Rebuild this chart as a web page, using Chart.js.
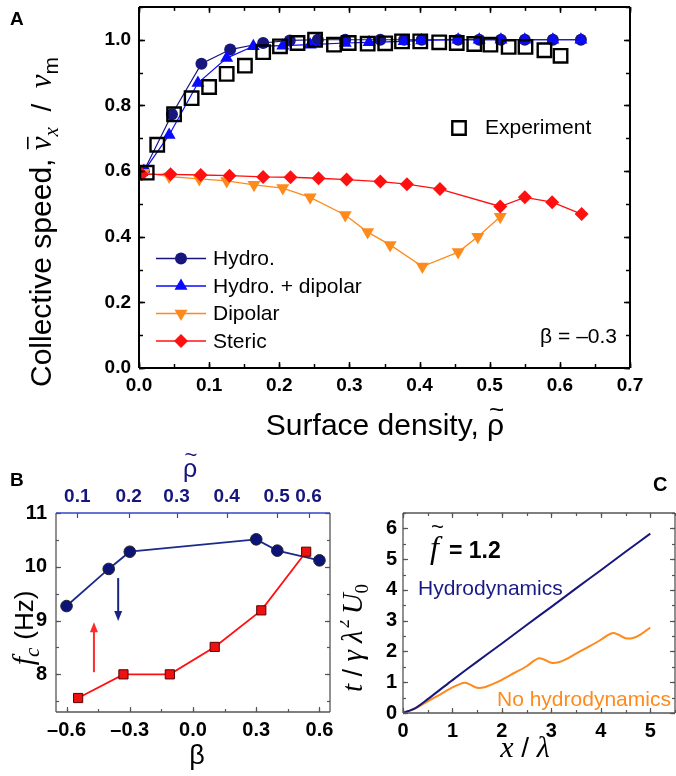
<!DOCTYPE html>
<html>
<head>
<meta charset="utf-8">
<script src="https://cdn.jsdelivr.net/npm/chart.js@4.4.0/dist/chart.umd.min.js"></script>
<style>
  html, body { margin: 0; padding: 0; background: #fff; }
  #wrap { position: relative; width: 676px; height: 776px; overflow: hidden; }
  canvas { position: absolute; }
</style>
</head>
<body>
<div id="wrap">
  <canvas id="chartA" width="676" height="455" style="left:0;top:-5px;width:676px;height:455px"></canvas>
  <canvas id="chartB" width="340" height="326" style="left:0;top:450px;width:340px;height:326px"></canvas>
  <canvas id="chartC" width="336" height="326" style="left:340px;top:450px;width:336px;height:326px"></canvas>
</div>
<script>
// ---- Panel A: collective speed vs surface density (beta = -0.3)
const hydroRho = [0.007, 0.047, 0.089, 0.130, 0.177, 0.215, 0.255, 0.294, 0.344, 0.378, 0.403, 0.455, 0.485, 0.516, 0.550, 0.590, 0.630];
const hydroV   = [0.600, 0.773, 0.927, 0.970, 0.990, 0.998, 1.000, 1.000, 1.000, 1.000, 1.000, 1.000, 1.000, 1.000, 1.000, 1.000, 1.000];
const hydroDipRho = [0.007, 0.043, 0.084, 0.125, 0.163, 0.205, 0.244, 0.294, 0.328, 0.378, 0.403, 0.455, 0.485, 0.516, 0.550, 0.590, 0.630];
const hydroDipV   = [0.600, 0.710, 0.868, 0.944, 0.980, 0.982, 0.985, 0.990, 0.992, 0.995, 0.998, 1.000, 1.000, 1.000, 1.000, 1.000, 1.000];
const dipolarRho = [0.007, 0.043, 0.086, 0.125, 0.164, 0.205, 0.244, 0.294, 0.326, 0.358, 0.404, 0.455, 0.483, 0.515];
const dipolarV   = [0.595, 0.583, 0.576, 0.570, 0.558, 0.548, 0.520, 0.466, 0.414, 0.375, 0.309, 0.353, 0.400, 0.461];
const stericRho = [0.004, 0.045, 0.088, 0.129, 0.177, 0.216, 0.256, 0.296, 0.344, 0.382, 0.429, 0.515, 0.550, 0.589, 0.631];
const stericV   = [0.590, 0.590, 0.588, 0.586, 0.582, 0.581, 0.578, 0.574, 0.568, 0.560, 0.545, 0.492, 0.520, 0.505, 0.469];
const exptRho = [0.011, 0.026, 0.050, 0.075, 0.100, 0.125, 0.151, 0.177, 0.201, 0.226, 0.251, 0.278, 0.299, 0.326, 0.351, 0.375, 0.401, 0.428, 0.453, 0.478, 0.501, 0.527, 0.551, 0.578, 0.601];
const exptV   = [0.595, 0.680, 0.773, 0.822, 0.856, 0.896, 0.921, 0.962, 0.980, 0.990, 1.000, 0.985, 0.990, 0.988, 0.989, 0.995, 0.995, 0.992, 0.990, 0.987, 0.985, 0.978, 0.978, 0.968, 0.951];

// ---- Panel B: critical frequency vs beta
const betaHydro = [-0.60, -0.40, -0.30, 0.30, 0.40, 0.60];
const fcHydro   = [9.27, 9.96, 10.28, 10.51, 10.30, 10.12];
const betaNoHydro = [-0.545, -0.33, -0.11, 0.103, 0.324, 0.537];
const fcNoHydro   = [7.56, 8.00, 8.00, 8.51, 9.19, 10.28];
const rhoTickBeta   = [-0.549, -0.305, -0.078, 0.160, 0.397, 0.548];
const rhoTickLabels = ['0.1', '0.2', '0.3', '0.4', '0.5', '0.6'];
const arrowBeta = [-0.355, -0.47];
const arrowFrom = [9.79, 8.04];
const arrowTo   = [8.99, 8.97];

// ---- Panel C: time vs distance, f~ = 1.2
const xHydro = [0, 0.25, 0.5, 0.75, 1, 1.5, 2, 2.5, 3, 3.5, 4, 4.5, 5];
const tHydro = [0, 0.16, 0.45, 0.76, 1.07, 1.67, 2.26, 2.86, 3.45, 4.05, 4.64, 5.24, 5.83];
const xNoHydro = [0, 0.25, 0.5, 0.75, 1.0, 1.15, 1.25, 1.35, 1.5, 1.65, 1.8, 2.0, 2.25, 2.5, 2.65, 2.75, 2.85, 3.0, 3.15, 3.3, 3.5, 3.75, 4.0, 4.15, 4.25, 4.35, 4.5, 4.65, 4.8, 5.0];
const tNoHydro = [0, 0.15, 0.38, 0.6, 0.83, 0.94, 0.98, 0.93, 0.82, 0.84, 0.93, 1.08, 1.3, 1.52, 1.7, 1.78, 1.74, 1.63, 1.65, 1.75, 1.93, 2.15, 2.38, 2.54, 2.6, 2.55, 2.43, 2.44, 2.55, 2.78];

const navy = '#16167c', blue = '#0a0aff', orange = '#ff8a1c', red = '#ff1010';
const SANS = '"Liberation Sans", Arial, sans-serif';
const SERIF = '"Liberation Serif", "Times New Roman", serif';
const pts = (xs, ys) => xs.map((x, i) => ({ x, y: ys[i] }));

// fixed axis size, no extra label padding pushed into the layout
const fixSize = (key, px) => s => {
  s[key] = px;
  s.paddingTop = 0; s.paddingBottom = 0; s.paddingLeft = 0; s.paddingRight = 0;
};

// text made of pieces with different fonts; angle -PI/2 for rotated titles
function richText(ctx, parts, x, y, angle, align) {
  ctx.save();
  ctx.translate(x, y);
  ctx.rotate(angle || 0);
  let total = 0;
  parts.forEach(p => { ctx.font = p.font; p.w = ctx.measureText(p.t).width; total += p.w + (p.gap || 0); });
  let cx = align === 'center' ? -total / 2 : (align === 'right' ? -total : 0);
  ctx.textAlign = 'left';
  ctx.textBaseline = 'alphabetic';
  parts.forEach(p => {
    const dy = p.dy || 0;
    ctx.font = p.font;
    ctx.fillStyle = p.color || '#000';
    ctx.fillText(p.t, cx, dy);
    if (p.over) {
      ctx.font = p.over.font;
      const w2 = ctx.measureText(p.over.t).width;
      ctx.fillText(p.over.t, cx + p.w / 2 - w2 / 2 + (p.over.dx || 0), dy + p.over.dy);
    }
    if (p.bar) {
      ctx.fillRect(cx + p.bar.dx, dy + p.bar.dy, p.w * p.bar.w, 1.6);
    }
    cx += p.w + (p.gap || 0);
  });
  ctx.restore();
}

function seq(min, max, step) {
  const out = [];
  const start = Math.ceil(min / step - 1e-6);
  for (let i = start; i * step <= max + 1e-6; i++) out.push(i * step);
  return out;
}

// box, inward ticks on all sides, and extra drawing
const frame = {
  id: 'frame',
  afterDatasetsDraw(chart, args, o) {
    const { ctx, chartArea: a } = chart;
    const xs = chart.scales.x, ys = chart.scales.y;
    ctx.save();
    ctx.lineWidth = o.tickWidth;
    ctx.strokeStyle = o.color;
    const line = (x1, y1, x2, y2) => { ctx.beginPath(); ctx.moveTo(x1, y1); ctx.lineTo(x2, y2); ctx.stroke(); };
    [[o.xMajor, o.majorLen], [o.xMinor, o.minorLen]].forEach(([step, len]) => {
      seq(xs.min, xs.max, step).forEach(v => {
        const px = Math.round(xs.getPixelForValue(v)) + 0.5;
        line(px, a.bottom, px, a.bottom - len);
        if (!o.topTicks) line(px, a.top, px, a.top + len);
      });
    });
    if (o.topTicks) {
      ctx.strokeStyle = o.topColor;
      o.topTicks.forEach(v => {
        const px = Math.round(xs.getPixelForValue(v)) + 0.5;
        line(px, a.top, px, a.top + o.majorLen);
      });
      ctx.strokeStyle = o.color;
    }
    [[o.yMajor, o.majorLen], [o.yMinor, o.minorLen]].forEach(([step, len]) => {
      seq(ys.min, ys.max, step).forEach(v => {
        const py = Math.round(ys.getPixelForValue(v)) + 0.5;
        line(a.left, py, a.left + len, py);
        line(a.right, py, a.right - len, py);
      });
    });
    ctx.lineWidth = o.borderWidth;
    line(a.left, a.top, a.left, a.bottom);
    line(a.left, a.bottom, a.right, a.bottom);
    line(a.right, a.bottom, a.right, a.top);
    ctx.strokeStyle = o.topColor || o.color;
    line(a.left, a.top, a.right, a.top);
    ctx.restore();
  },
  afterDraw(chart, args, o) {
    if (o.extra) { chart.ctx.save(); o.extra(chart, chart.ctx); chart.ctx.restore(); }
  }
};

const tickFont = { family: SANS, size: 19, weight: 'bold' };
const fixed1 = v => v.toFixed(1);

// ================= Panel A =================
const legendA = [
  { ds: 4, label: 'Hydro.' },
  { ds: 3, label: 'Hydro. + dipolar' },
  { ds: 2, label: 'Dipolar' },
  { ds: 1, label: 'Steric' }
];

function drawMarker(ctx, ds, x, y) {
  ctx.fillStyle = ds.backgroundColor;
  ctx.strokeStyle = ds.borderColor;
  ctx.lineWidth = ds.pointBorderWidth;
  Chart.helpers.drawPoint(ctx, {
    pointStyle: ds.pointStyle, radius: ds.pointRadius,
    rotation: ds.pointRotation || 0, borderWidth: ds.pointBorderWidth
  }, x, y);
}

new Chart(document.getElementById('chartA'), {
  type: 'line',
  data: {
    datasets: [
      { label: 'Experiment', data: pts(exptRho, exptV), showLine: false, pointStyle: 'rect', pointRadius: 9.5,
        borderColor: '#000', backgroundColor: 'rgba(0,0,0,0)', pointBorderWidth: 2.4 },
      { label: 'Steric', data: pts(stericRho, stericV), borderColor: red, backgroundColor: red, borderWidth: 1.3,
        pointStyle: 'rectRot', pointRadius: 7, pointBorderWidth: 0 },
      { label: 'Dipolar', data: pts(dipolarRho, dipolarV), borderColor: orange, backgroundColor: orange, borderWidth: 1.3,
        pointStyle: 'triangle', pointRotation: 180, pointRadius: 7.5, pointBorderWidth: 0 },
      { label: 'Hydro. + dipolar', data: pts(hydroDipRho, hydroDipV), borderColor: blue, backgroundColor: blue, borderWidth: 1.2,
        pointStyle: 'triangle', pointRadius: 7.5, pointBorderWidth: 0 },
      { label: 'Hydro.', data: pts(hydroRho, hydroV), borderColor: navy, backgroundColor: navy, borderWidth: 1.2,
        pointStyle: 'circle', pointRadius: 6, pointBorderWidth: 0 }
    ]
  },
  options: {
    responsive: false, animation: false,
    layout: { padding: { top: 7, right: 46, left: 0, bottom: 0 } },
    plugins: {
      legend: { display: false }, tooltip: { enabled: false },
      frame: {
        xMajor: 0.1, xMinor: 0.05, yMajor: 0.2, yMinor: 0.1, majorLen: 6, minorLen: 4,
        tickWidth: 1.5, borderWidth: 2, color: '#000',
        extra(chart, ctx) {
          // canvas sits 5px above the page top
          ctx.translate(0, 5);
          const dss = chart.data.datasets;
          // legend, lower left
          legendA.forEach((e, i) => {
            const y = 258.5 + i * 27.5;
            const ds = dss[e.ds];
            ctx.strokeStyle = ds.borderColor; ctx.lineWidth = 1.3;
            ctx.beginPath(); ctx.moveTo(156, y); ctx.lineTo(206, y); ctx.stroke();
            drawMarker(ctx, ds, 181, y);
            ctx.fillStyle = '#000'; ctx.font = '21px ' + SANS; ctx.textBaseline = 'middle';
            ctx.fillText(e.label, 213, y + 1);
          });
          // experiment legend
          drawMarker(ctx, dss[0], 459, 128);
          ctx.fillStyle = '#000'; ctx.font = '21px ' + SANS; ctx.textBaseline = 'middle';
          ctx.fillText('Experiment', 485, 128);
          ctx.textAlign = 'right';
          ctx.fillText('\u03b2 = \u20130.3', 617, 337);
          ctx.textAlign = 'left'; ctx.textBaseline = 'alphabetic';
          ctx.font = 'bold 19px ' + SANS;
          ctx.fillText('A', 10, 25);
          // axis titles
          richText(ctx, [
            { t: 'Surface density, ', font: '30px ' + SANS },
            { t: '\u03c1', font: '30px ' + SANS, over: { t: '~', font: '26px ' + SANS, dy: -17, dx: 1 } }
          ], 385, 435, 0, 'center');
          richText(ctx, [
            { t: 'Collective speed, ', font: '30px ' + SANS },
            { t: '\u03bd', font: 'italic 31px ' + SERIF, bar: { dx: 1, dy: -24, w: 0.9 } },
            { t: 'x', font: 'italic 21px ' + SERIF, dy: 7 },
            { t: '  /  ', font: '28px ' + SANS },
            { t: '\u03bd', font: 'italic 31px ' + SERIF },
            { t: 'm', font: '21px ' + SANS, dy: 7 }
          ], 51, 222, -Math.PI / 2, 'center');
        }
      }
    },
    scales: {
      x: {
        type: 'linear', min: 0, max: 0.7,
        afterFit: fixSize('height', 82),
        grid: { display: false, drawTicks: false }, border: { display: false },
        ticks: { stepSize: 0.1, includeBounds: false, autoSkip: false, maxRotation: 0, padding: 6,
          color: '#000', font: tickFont, callback: fixed1 }
      },
      y: {
        type: 'linear', min: 0, max: 1.1,
        afterFit: fixSize('width', 139),
        grid: { display: false, drawTicks: false }, border: { display: false },
        ticks: { stepSize: 0.2, includeBounds: false, autoSkip: false, padding: 8,
          color: '#000', font: tickFont, callback: fixed1 }
      }
    }
  },
  plugins: [frame]
});

// ================= Panel B =================
function arrowHead(ctx, x, y, dir, color) {
  ctx.fillStyle = color;
  ctx.beginPath();
  ctx.moveTo(x, y);
  ctx.lineTo(x - 4, y - dir * 10);
  ctx.lineTo(x + 4, y - dir * 10);
  ctx.closePath();
  ctx.fill();
}

new Chart(document.getElementById('chartB'), {
  type: 'line',
  data: {
    datasets: [
      { label: 'No hydrodynamics', data: pts(betaNoHydro, fcNoHydro), xAxisID: 'x', borderColor: red, backgroundColor: '#ee1111',
        borderWidth: 1.8, pointStyle: 'rect', pointRadius: 6.5, pointBorderColor: '#5a0000', pointBorderWidth: 1 },
      { label: 'Hydrodynamics', data: pts(betaHydro, fcHydro), xAxisID: 'x', borderColor: '#1c2a8c', backgroundColor: '#0c1478',
        borderWidth: 1.8, pointStyle: 'circle', pointRadius: 5.8, pointBorderColor: '#222', pointBorderWidth: 1 }
    ]
  },
  options: {
    responsive: false, animation: false,
    layout: { padding: { top: 0, right: 10, left: 0, bottom: 0 } },
    plugins: {
      legend: { display: false }, tooltip: { enabled: false },
      frame: {
        xMajor: 0.3, xMinor: 0.15, yMajor: 1, yMinor: 0.5, majorLen: 5, minorLen: 3,
        topTicks: rhoTickBeta, topColor: '#3346c8',
        tickWidth: 1.2, borderWidth: 1.3, color: '#555',
        extra(chart, ctx) {
          const xs = chart.scales.x, ys = chart.scales.y;
          const colors = ['#1a237e', '#ff2a2a'];
          arrowBeta.forEach((b, i) => {
            const px = xs.getPixelForValue(b);
            const y0 = ys.getPixelForValue(arrowFrom[i]), y1 = ys.getPixelForValue(arrowTo[i]);
            const dir = y1 > y0 ? 1 : -1;
            ctx.strokeStyle = colors[i]; ctx.lineWidth = 2;
            ctx.beginPath(); ctx.moveTo(px, y0); ctx.lineTo(px, y1 - dir * 8); ctx.stroke();
            arrowHead(ctx, px, y1, dir, colors[i]);
          });
          ctx.fillStyle = '#000';
          ctx.font = 'bold 19px ' + SANS;
          ctx.fillText('B', 10, 36);
          richText(ctx, [{ t: '\u03b2', font: '27px ' + SANS }], 197, 314, 0, 'center');
          richText(ctx, [{ t: '\u03c1', font: '25px ' + SANS, color: navy,
            over: { t: '~', font: '22px ' + SANS, dy: -15, dx: 1 } }], 190, 27, 0, 'center');
          richText(ctx, [
            { t: 'f', font: 'italic 30px ' + SERIF },
            { t: 'c', font: 'italic 21px ' + SERIF, dy: 6, gap: 8 },
            { t: '(Hz)', font: '26px ' + SANS }
          ], 33, 178, -Math.PI / 2, 'center');
        }
      }
    },
    scales: {
      x: {
        type: 'linear', position: 'bottom', min: -0.65, max: 0.65,
        afterFit: fixSize('height', 64),
        grid: { display: false, drawTicks: false }, border: { display: false },
        ticks: { stepSize: 0.3, includeBounds: false, autoSkip: false, maxRotation: 0, padding: 6,
          color: '#000', font: { family: SANS, size: 20, weight: 'bold' },
          callback: v => (v < -1e-9 ? '\u2013' : '') + Math.abs(v).toFixed(1) }
      },
      x2: {
        type: 'linear', position: 'top', min: -0.65, max: 0.65,
        afterFit: fixSize('height', 63),
        afterBuildTicks: s => { s.ticks = rhoTickBeta.map(v => ({ value: v })); },
        grid: { display: false, drawTicks: false }, border: { display: false },
        ticks: { autoSkip: false, maxRotation: 0, padding: 5, color: navy,
          font: { family: SANS, size: 19, weight: 'bold' }, callback: (v, i) => rhoTickLabels[i] }
      },
      y: {
        type: 'linear', min: 7.3, max: 11,
        afterFit: fixSize('width', 56),
        grid: { display: false, drawTicks: false }, border: { display: false },
        ticks: { stepSize: 1, includeBounds: false, autoSkip: false, padding: 9,
          color: '#000', font: { family: SANS, size: 20, weight: 'bold' } }
      }
    }
  },
  plugins: [frame]
});

// ================= Panel C =================
new Chart(document.getElementById('chartC'), {
  type: 'line',
  data: {
    datasets: [
      { label: 'Hydrodynamics', data: pts(xHydro, tHydro), borderColor: '#17177e', borderWidth: 2,
        pointRadius: 0, tension: 0.3 },
      { label: 'No hydrodynamics', data: pts(xNoHydro, tNoHydro), borderColor: orange, borderWidth: 2,
        pointRadius: 0, tension: 0.3 }
    ]
  },
  options: {
    responsive: false, animation: false,
    layout: { padding: { top: 63, right: 1, left: 0, bottom: 0 } },
    plugins: {
      legend: { display: false }, tooltip: { enabled: false },
      frame: {
        xMajor: 1, xMinor: 0.5, yMajor: 1, yMinor: 0.5, majorLen: 5, minorLen: 3,
        tickWidth: 1.2, borderWidth: 1.3, color: '#555',
        extra(chart, ctx) {
          ctx.fillStyle = '#000';
          ctx.font = 'bold 20px ' + SANS;
          ctx.fillText('C', 313, 41);
          richText(ctx, [
            { t: 'f', font: 'italic 32px ' + SERIF, over: { t: '~', font: '22px ' + SANS, dy: -24, dx: 3 }, gap: 10 },
            { t: '= 1.2', font: 'bold 23px ' + SANS }
          ], 90, 108, 0, 'left');
          ctx.font = '21px ' + SANS;
          ctx.fillStyle = '#1a1a86';
          ctx.fillText('Hydrodynamics', 78, 145);
          ctx.fillStyle = orange;
          ctx.fillText('No hydrodynamics', 157, 256);
          richText(ctx, [
            { t: 'x', font: 'italic 30px ' + SERIF },
            { t: ' / ', font: '28px ' + SANS },
            { t: '\u03bb', font: 'italic 30px ' + SERIF }
          ], 185, 307, 0, 'center');
          richText(ctx, [
            { t: 't', font: 'italic 29px ' + SERIF },
            { t: ' / ', font: '27px ' + SANS },
            { t: '\u03b3 \u03bb', font: 'italic 29px ' + SERIF, gap: 2 },
            { t: '2', font: '18px ' + SERIF, dy: -13, gap: 5 },
            { t: 'U', font: 'italic 29px ' + SERIF },
            { t: '0', font: '19px ' + SERIF, dy: 6 }
          ], 22, 188, -Math.PI / 2, 'center');
        }
      }
    },
    scales: {
      x: {
        type: 'linear', min: 0, max: 5.5,
        afterFit: fixSize('height', 63),
        grid: { display: false, drawTicks: false }, border: { display: false },
        ticks: { stepSize: 1, includeBounds: false, autoSkip: false, maxRotation: 0, padding: 6,
          color: '#000', font: { family: SANS, size: 20, weight: 'bold' } }
      },
      y: {
        type: 'linear', min: 0, max: 6.5,
        afterFit: fixSize('width', 63),
        grid: { display: false, drawTicks: false }, border: { display: false },
        ticks: { stepSize: 1, includeBounds: false, autoSkip: false, padding: 6,
          color: '#000', font: { family: SANS, size: 20, weight: 'bold' } }
      }
    }
  },
  plugins: [frame]
});
</script>
</body>
</html>
